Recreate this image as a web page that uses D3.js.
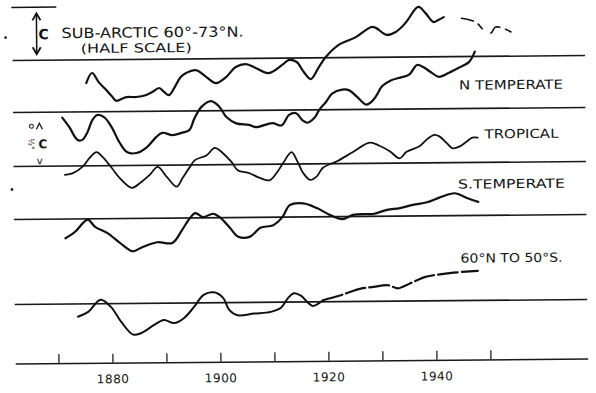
<!DOCTYPE html>
<html>
<head>
<meta charset="utf-8">
<script src="https://cdn.jsdelivr.net/npm/d3@7"></script>
<style>
  html, body { margin: 0; padding: 0; background: #fff; }
  svg { display: block; }
  text { font-family: "DejaVu Sans", sans-serif; fill: #141414; }
</style>
</head>
<body>
<svg id="chart" width="596" height="393"></svg>
<script>
// Decade ticks and labelled years on the time axis
const decades = [1870, 1880, 1890, 1900, 1910, 1920, 1930, 1940, 1950];
const yearLabels = [1880, 1900, 1920, 1940];

// Smoothed temperature departures, [year, °C]
const subArctic = [[1875.6,-0.58],[1876.7,-0.33],[1877.9,-0.56],[1879.3,-0.76],[1880.4,-0.93],[1881.1,-1.03],[1883.0,-0.94],[1884.8,-0.94],[1886.7,-0.89],[1887.8,-0.82],[1889.1,-0.72],[1890.0,-0.82],[1890.9,-0.90],[1891.9,-0.72],[1893.1,-0.45],[1894.1,-0.35],[1895.9,-0.28],[1897.8,-0.45],[1899.6,-0.61],[1901.5,-0.46],[1903.3,-0.21],[1905.2,-0.14],[1907.0,-0.24],[1909.4,-0.37],[1911.9,-0.17],[1913.1,-0.05],[1914.6,-0.10],[1915.9,-0.35],[1917.2,-0.53],[1918.7,-0.23],[1920.0,0.02],[1922.4,0.32],[1925.6,0.51],[1928.5,0.76],[1929.4,0.73],[1931.3,0.56],[1933.0,0.63],[1934.8,0.85],[1937.2,1.25],[1938.5,1.10],[1940.0,0.87],[1940.9,0.92],[1941.9,0.99]];
const subArcticLate = [[1945.2,0.96],[1947.8,0.86],[1949.3,0.66],[1950.6,0.58],[1951.5,0.73],[1954.4,0.60],[1955.7,0.45]];

const nTemperate = [[1871.1,-0.07],[1872.4,-0.19],[1873.9,-0.35],[1874.8,-0.35],[1875.7,-0.26],[1876.7,-0.10],[1877.6,-0.04],[1878.9,-0.07],[1880.2,-0.19],[1881.7,-0.39],[1883.1,-0.51],[1884.8,-0.52],[1886.7,-0.45],[1888.5,-0.32],[1889.6,-0.27],[1891.5,-0.30],[1893.3,-0.27],[1894.6,-0.24],[1895.6,-0.09],[1896.9,0.05],[1898.7,0.12],[1900.2,0.05],[1901.5,-0.08],[1903.3,-0.16],[1905.7,-0.18],[1907.0,-0.21],[1910.0,-0.16],[1911.7,-0.19],[1913.1,-0.06],[1914.4,-0.04],[1915.6,-0.13],[1916.5,-0.16],[1917.8,-0.10],[1918.7,0.00],[1920.0,0.10],[1921.1,0.20],[1923.0,0.25],[1924.3,0.24],[1925.7,0.16],[1927.4,0.06],[1928.3,0.09],[1929.3,0.17],[1930.4,0.29],[1932.0,0.36],[1933.5,0.39],[1935.4,0.43],[1936.9,0.55],[1938.1,0.52],[1939.4,0.46],[1940.9,0.40],[1942.8,0.45],[1944.6,0.51],[1946.5,0.58],[1947.6,0.71]];

const tropical = [[1871.5,-0.11],[1873.0,-0.09],[1874.8,-0.01],[1876.1,0.10],[1877.4,0.17],[1878.5,0.11],[1880.2,-0.03],[1881.7,-0.16],[1883.9,-0.28],[1885.4,-0.22],[1887.2,-0.12],[1888.7,-0.02],[1890.4,-0.15],[1892.2,-0.27],[1893.3,-0.16],[1894.6,-0.03],[1895.6,0.06],[1897.8,0.12],[1899.3,0.21],[1900.7,0.15],[1902.4,0.03],[1903.5,-0.07],[1905.7,-0.11],[1907.6,-0.17],[1909.4,-0.20],[1910.7,-0.11],[1911.9,0.01],[1913.5,0.15],[1914.6,0.03],[1915.6,-0.11],[1916.9,-0.20],[1918.1,-0.16],[1919.3,-0.05],[1921.9,0.03],[1924.8,0.14],[1928.0,0.26],[1929.8,0.22],[1931.7,0.15],[1933.5,0.06],[1934.8,0.14],[1937.2,0.21],[1938.7,0.30],[1940.0,0.35],[1940.9,0.33],[1942.2,0.25],[1943.3,0.18],[1944.6,0.20],[1945.9,0.26],[1947.0,0.31],[1948.0,0.31]];

const sTemperate = [[1871.5,-0.24],[1873.3,-0.16],[1874.8,-0.05],[1875.7,-0.01],[1877.0,-0.10],[1879.3,-0.18],[1881.7,-0.31],[1883.9,-0.41],[1885.7,-0.36],[1888.5,-0.30],[1891.3,-0.31],[1893.1,-0.15],[1894.6,0.00],[1895.6,0.06],[1897.0,0.01],[1898.9,0.05],[1900.2,0.00],[1902.0,-0.13],[1903.5,-0.24],[1905.7,-0.24],[1907.6,-0.13],[1910.0,-0.10],[1911.7,0.00],[1913.1,0.15],[1915.6,0.17],[1918.1,0.11],[1920.6,0.02],[1922.8,-0.03],[1924.8,0.02],[1927.0,0.03],[1928.5,0.03],[1931.1,0.08],[1933.5,0.10],[1935.9,0.14],[1938.5,0.17],[1940.9,0.23],[1943.7,0.28],[1945.9,0.22],[1948.0,0.17]];

const globalEarly = [[1873.7,-0.16],[1875.6,-0.10],[1877.9,0.05],[1879.8,-0.04],[1881.7,-0.23],[1883.9,-0.39],[1885.4,-0.37],[1887.8,-0.27],[1889.6,-0.21],[1891.5,-0.25],[1893.3,-0.19],[1895.2,-0.05],[1897.0,0.10],[1898.9,0.13],[1900.6,0.06],[1901.7,-0.09],[1903.3,-0.16],[1906.3,-0.14],[1909.4,-0.12],[1911.3,-0.07],[1912.6,0.05],[1913.7,0.11],[1915.0,0.08],[1916.3,-0.01],[1917.2,-0.05],[1919.1,0.02]];
const globalLate = [[1919.1,0.02],[1921.9,0.07],[1923.7,0.11],[1926.1,0.16],[1928.5,0.18],[1931.1,0.20],[1933.0,0.16],[1933.9,0.18],[1935.9,0.24],[1938.1,0.30],[1939.6,0.32],[1943.3,0.35],[1947.8,0.37]];

// Band labels
const bandNames = ["SUB-ARCTIC 60°-73°N.", "N TEMPERATE", "TROPICAL", "S.TEMPERATE", "60°N TO 50°S."];

const svg = d3.select("#chart");
svg.append("rect").attr("width", 596).attr("height", 393).attr("fill", "#fff");

// whole sheet sits very slightly tilted
const g = svg.append("g").attr("transform", "rotate(-0.5, 300, 196)");

const x = d3.scaleLinear().domain([1862, 1968]).range([13.8, 586.2]);

// each band: zero line position and pixels per degree (sub-arctic at half scale)
const bands = [
  { base: 58,  perDeg: 40 },
  { base: 110, perDeg: 80 },
  { base: 164, perDeg: 80 },
  { base: 217, perDeg: 80 },
  { base: 302, perDeg: 80 }
];
bands.forEach(b => { b.y = d3.scaleLinear().domain([0, 1]).range([b.base, b.base - b.perDeg]); });

// zero lines
g.append("g").selectAll("line").data(bands).join("line")
  .attr("x1", x(1862)).attr("x2", x(1968))
  .attr("y1", d => d.y(0)).attr("y2", d => d.y(0))
  .attr("stroke", "#1a1a1a").attr("stroke-width", 1.6);

function curve(data, band, opts = {}) {
  const line = d3.line()
    .x(d => x(d[0]))
    .y(d => band.y(d[1]))
    .curve(d3.curveCatmullRom.alpha(0.5));
  g.append("path").datum(data)
    .attr("d", line)
    .attr("fill", "none")
    .attr("stroke", "#111")
    .attr("stroke-width", opts.width || 2)
    .attr("stroke-linejoin", "round")
    .attr("stroke-linecap", "round")
    .attr("stroke-dasharray", opts.dash || null);
}

curve(subArctic, bands[0], { width: 2.2 });
curve(subArcticLate, bands[0], { width: 1.6, dash: "12,6,6,10" });
curve(nTemperate, bands[1], { width: 2.2 });
curve(tropical, bands[2], { width: 1.8 });
curve(sTemperate, bands[3], { width: 2.2 });
curve(globalEarly, bands[4], { width: 2 });
curve(globalLate, bands[4], { width: 2.2, dash: "20,4" });

// band labels
const labels = [
  { text: bandNames[0], x: 63,  y: 36,  size: 14, len: 182 },
  { text: bandNames[1], x: 460, y: 91,  size: 12.5, len: 104 },
  { text: bandNames[2], x: 485, y: 140, size: 12.5, len: 74 },
  { text: bandNames[3], x: 458, y: 190, size: 12.5, len: 107 },
  { text: bandNames[4], x: 460, y: 264, size: 12.5, len: 102 }
];
g.append("g").selectAll("text").data(labels).join("text")
  .attr("x", d => d.x).attr("y", d => d.y)
  .attr("font-size", d => d.size)
  .attr("textLength", d => d.len)
  .attr("lengthAdjust", "spacingAndGlyphs")
  .text(d => d.text);

g.append("text").attr("x", 82).attr("y", 51).attr("font-size", 12.5)
  .attr("textLength", 111).attr("lengthAdjust", "spacingAndGlyphs")
  .text("(HALF SCALE)");

// sub-arctic scale bar: 1 °C at half scale
const sb = g.append("g").attr("stroke", "#111").attr("fill", "none").attr("stroke-width", 1.5);
sb.append("line").attr("x1", 13).attr("x2", 58).attr("y1", 5).attr("y2", 5);
sb.append("line").attr("x1", 38).attr("x2", 38).attr("y1", bands[0].y(0) - 6).attr("y2", bands[0].y(0) - 46);
sb.append("path").attr("d", "M34,18 L38,11 L42,18").attr("stroke-width", 1.8);
sb.append("path").attr("d", "M34,45 L38,52 L42,45").attr("stroke-width", 1.8);
g.append("text").attr("x", 40).attr("y", 37).attr("font-size", 14).attr("font-weight", "bold").text("C");

// tropical scale bar: ½ °C
const tb = g.append("g").attr("stroke", "#222").attr("fill", "none").attr("stroke-width", 1.4);
tb.append("path").attr("d", "M37,127 L40,121 L43,127");
tb.append("circle").attr("cx", 32).attr("cy", 124).attr("r", 2).attr("stroke-width", 1);
g.append("text").attr("x", 39).attr("y", 146).attr("font-size", 12).attr("font-weight", "bold").text("C");
g.append("text").attr("x", 37).attr("y", 162).attr("font-size", 10).text("v");
g.append("text").attr("x", 0).attr("y", 0).attr("font-size", 8).attr("fill", "#999")
  .attr("transform", "translate(29,136) rotate(90)").text("½°");

// loose ink dots in the margin
g.append("g").selectAll("circle").data([[7, 35], [12, 187]]).join("circle")
  .attr("cx", d => d[0]).attr("cy", d => d[1]).attr("r", 1.4).attr("fill", "#222");

// time axis
const axisY = 361;
const axis = g.append("g").attr("transform", `translate(0,${axisY})`)
  .call(d3.axisBottom(x)
    .tickValues(decades)
    .tickSizeInner(-9)
    .tickSizeOuter(0)
    .tickPadding(12)
    .tickFormat(d => yearLabels.includes(d) ? d : ""));
axis.select(".domain").attr("stroke", "#1a1a1a").attr("stroke-width", 1.5);
axis.selectAll(".tick line").attr("stroke", "#222").attr("stroke-width", 1.3);
axis.selectAll(".tick text")
  .attr("font-family", "DejaVu Sans, sans-serif")
  .attr("font-size", 12)
  .attr("fill", "#141414")
  .attr("letter-spacing", 0.5);
</script>
</body>
</html>
